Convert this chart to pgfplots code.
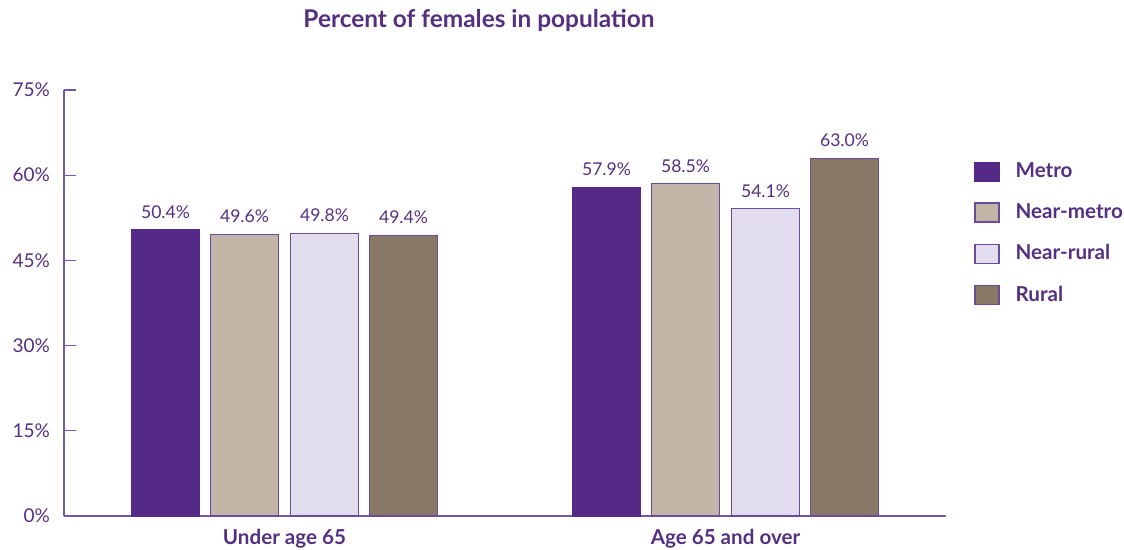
\documentclass[border=0pt]{standalone}
\usepackage{fontspec}
\setmainfont{Lato}
\usepackage{pgfplots}
\pgfplotsset{compat=1.18}
\definecolor{ptext}{HTML}{55307F}
\definecolor{paxis}{HTML}{7158A8}
\definecolor{cmetro}{HTML}{552A86}
\definecolor{cnearmetro}{HTML}{C2B5A8}
\definecolor{cnearrural}{HTML}{E2DDEE}
\definecolor{crural}{HTML}{8A7866}
\definecolor{cedge}{HTML}{6B4C9A}

\begin{document}
\begin{tikzpicture}
\begin{axis}[
  scale only axis, clip=false,
  width=441pt, height=213pt,
  xmin=-0.5, xmax=1.5,
  ymin=0, ymax=75,
  axis lines*=left,
  axis line style={draw=paxis, line width=0.6pt},
  ybar, bar width=34pt,
  xtick={0,1},
  xticklabels={Under age 65, Age 65 and over},
  xtick style={draw=none},
  x tick label style={font=\bfseries\fontsize{10.3}{12}\selectfont, text=ptext, yshift=-3.3pt},
  ytick={0,15,30,45,60,75},
  ytick style={draw=paxis, line width=0.6pt},
  tick align=inside,
  major tick length=6pt,
  yticklabel={\pgfmathprintnumber{\tick}\%},
  y tick label style={font=\fontsize{9.5}{12}\selectfont, text=ptext, xshift=-3.5pt},
  /pgf/number format/assume math mode=true,
  nodes near coords={\pgfmathprintnumber[fixed,fixed zerofill,precision=1]{\pgfplotspointmeta}\%},
  every node near coord/.append style={font=\fontsize{8.8}{10}\selectfont, text=ptext, yshift=2pt},
  legend style={at={(rel axis cs:1.025,0.849)}, anchor=north west, draw=none, fill=none,
    font=\bfseries\fontsize{10.3}{12}\selectfont, text=ptext, row sep=7.5pt,
    /tikz/every odd column/.append style={column sep=6pt}},
  legend cell align=left,
  legend image code/.code={\draw[#1, line width=0.6pt] (0pt,-4.75pt) rectangle (12pt,4.75pt);},
]
\addplot[fill=cmetro, draw=cmetro, line width=0.6pt, bar shift=-59.5pt]
  coordinates {(0,50.4) (1,57.9)};
\addplot[fill=cnearmetro, draw=cedge, line width=0.6pt, bar shift=-20pt]
  coordinates {(0,49.6) (1,58.5)};
\addplot[fill=cnearrural, draw=cedge, line width=0.6pt, bar shift=20pt]
  coordinates {(0,49.8) (1,54.1)};
\addplot[fill=crural, draw=cedge, line width=0.6pt, bar shift=59.5pt]
  coordinates {(0,49.4) (1,63.0)};
\legend{Metro, Near-metro, Near-rural, Rural}
\node[font=\bfseries\fontsize{12.2}{14}\selectfont, text=ptext, anchor=base]
  at ([yshift=31pt]rel axis cs:0.4705,1) {Percent of females in population};
\end{axis}
\pgfresetboundingbox
\useasboundingbox ([xshift=-32pt,yshift=-17pt]current axis.south west) rectangle ([xshift=89pt,yshift=45pt]current axis.north east);
\end{tikzpicture}
\end{document}
